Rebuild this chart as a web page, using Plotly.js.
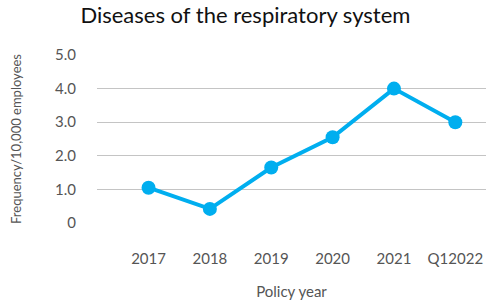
<!DOCTYPE html>
<html><head><meta charset="utf-8">
<script src="https://cdn.plot.ly/plotly-3.0.1.min.js"></script>
<style>body{margin:0;padding:0;background:#fff}#chart{width:486px;height:302px}</style>
</head><body><div id="chart"></div>
<script>
const categories = ["2017","2018","2019","2020","2021","Q12022"];
const values = [1.05, 0.42, 1.65, 2.55, 4.0, 3.0];
const yTickVals = [0, 1, 2, 3, 4, 5];
const yTickText = ["0", "1.0", "2.0", "3.0", "4.0", "5.0"];

const trace = {
  x: categories, y: values, type: "scatter", mode: "lines+markers",
  line: {color: "#00AEEF", width: 4},
  marker: {color: "#00AEEF", size: 14},
  cliponaxis: false, hoverinfo: "none"
};
const layout = {
  width: 486, height: 302,
  margin: {l: 97, r: 0, t: 55, b: 79},
  paper_bgcolor: "#fff", plot_bgcolor: "#fff",
  font: {family: "Lato, sans-serif", color: "#555"},
  title: {text: "Diseases of the respiratory system", font: {size: 22, color: "#111"}, x: 0.505, xanchor: "center", y: 0.975, yanchor: "top"},
  showlegend: false,
  xaxis: {
    type: "category", range: [-0.84, 5.5], showgrid: false, zeroline: false, showline: false,
    ticks: "", ticklabelstandoff: 25, tickfont: {size: 15, color: "#555"},
    title: {text: "Policy year", font: {size: 15, color: "#555"}, standoff: 20}
  },
  yaxis: {
    range: [0, 5], tickvals: yTickVals, ticktext: yTickText, showgrid: true, gridcolor: "#c4c4c4", gridwidth: 1,
    zeroline: false, showline: false, ticks: "", ticklabelstandoff: 20, tickfont: {size: 15, color: "#555"},
    title: {text: "Frequency/10,000 employees", font: {size: 13, color: "#555"}, standoff: 30}
  }
};
Plotly.newPlot("chart", [trace], layout, {displayModeBar: false, staticPlot: true});
</script></body></html>
